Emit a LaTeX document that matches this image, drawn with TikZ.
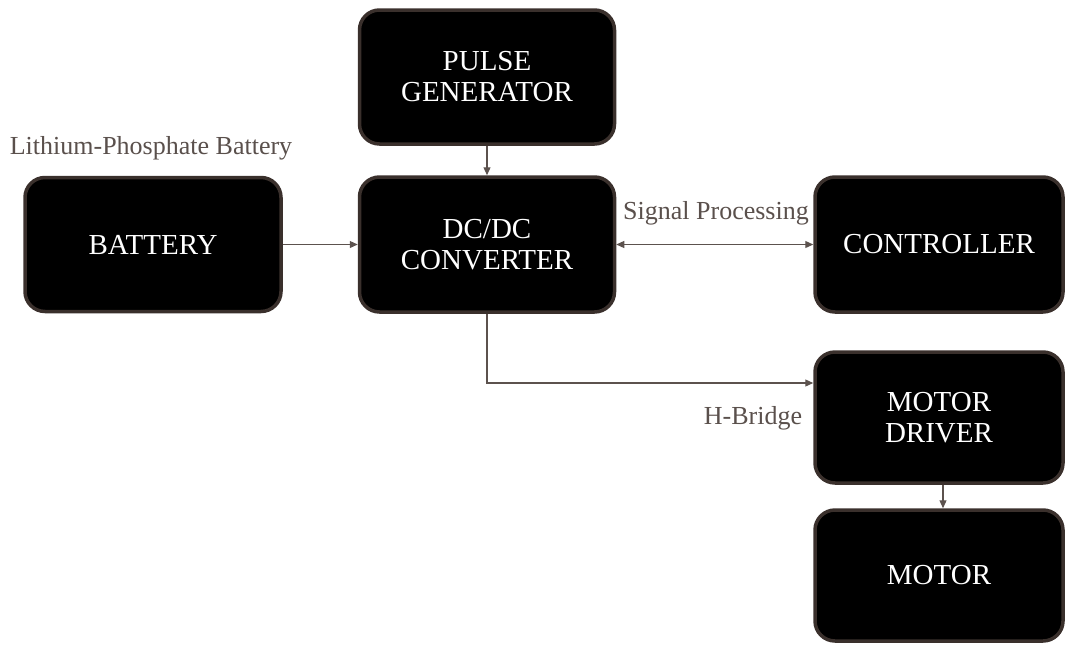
\documentclass[tikz,border=0pt]{standalone}
\usepackage{fontspec}
\setmainfont{Liberation Serif}
\usetikzlibrary{arrows.meta}
\definecolor{edgebrown}{HTML}{3A302C}
\definecolor{wire}{HTML}{5C524E}
\definecolor{labelgray}{HTML}{5A504C}
\tikzset{
  block/.style={draw=edgebrown, line width=3.5pt, fill=black, rounded corners=20pt,
    text=white, align=center, inner sep=0pt,
    font=\fontsize{29}{31}\selectfont},
  wirearrow/.style={draw=wire, line width=1.2pt,
    -{Triangle[length=8pt,width=7pt]}},
  wirelink/.style={draw=wire, line width=1.2pt,
    {Triangle[length=8pt,width=7pt]}-{Triangle[length=8pt,width=7pt]}},
  tag/.style={text=labelgray, inner sep=0pt, font=\fontsize{26}{28}\selectfont}
}
\begin{document}
\begin{tikzpicture}[x=1pt,y=-1pt]
\useasboundingbox (0,0) rectangle (1067,645);

% blocks
\node[block, minimum width=255pt, minimum height=134pt] (pulse) at (487,77) {PULSE\\GENERATOR};
\node[block, minimum width=255pt, minimum height=135pt] (dcdc) at (487,244.5) {DC/DC\\CONVERTER};
\node[block, minimum width=256pt, minimum height=134pt] (battery) at (153,244.5) {BATTERY};
\node[block, minimum width=248pt, minimum height=135pt] (ctrl) at (939,244.5) {CONTROLLER};
\node[block, minimum width=248pt, minimum height=131pt] (driver) at (939,417.5) {MOTOR\\DRIVER};
\node[block, minimum width=248pt, minimum height=131pt] (motor) at (939,575.5) {MOTOR};

% labels
\node[tag] (lbat) at (151,148) {Lithium-Phosphate Battery};
\node[tag] (lsig) at (716,213) {Signal Processing};
\node[tag] (lhb) at (753,418) {H-Bridge};

% connectors
\coordinate (hbend) at (487,383);
\draw[wirearrow] (pulse.south) -- (dcdc.north);
\draw[wirearrow] (battery.east) -- (dcdc.west);
\draw[wirelink] (dcdc.east) -- (ctrl.west);
\draw[wirearrow] (dcdc.south) -- (hbend) -- (hbend -| driver.west);
\draw[wirearrow] ([xshift=4pt]driver.south) -- ([xshift=4pt]motor.north);
\end{tikzpicture}
\end{document}
